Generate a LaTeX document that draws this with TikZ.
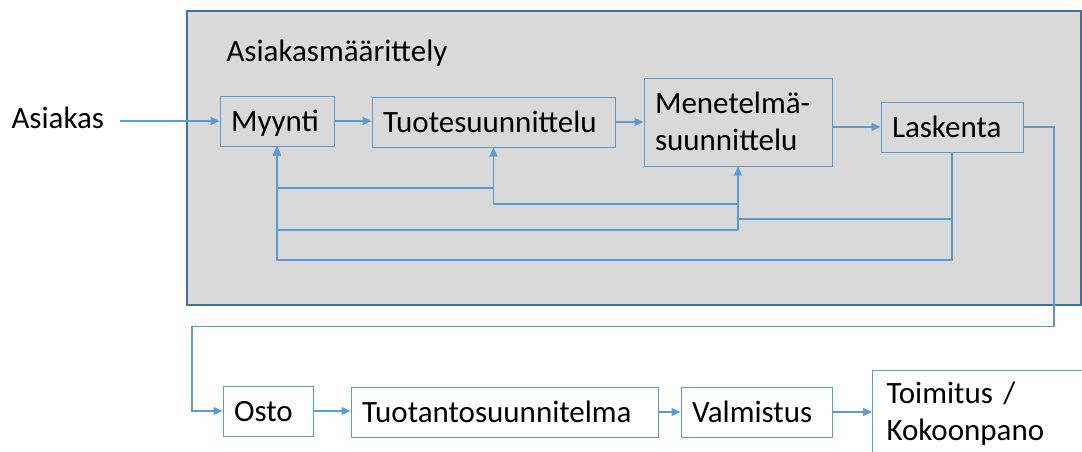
\documentclass[tikz,border=0pt]{standalone}
\usepackage{fontspec}
\setmainfont{Carlito}
\usetikzlibrary{arrows.meta}
\definecolor{boxblue}{HTML}{5B9BD5}
\definecolor{frameblue}{HTML}{41719C}
\definecolor{panelgray}{HTML}{D9D9D9}
\begin{document}
\begin{tikzpicture}[x=1pt,y=-1pt,
  every node/.style={font=\fontsize{31}{37}\selectfont, text=black},
  stepbox/.style={draw=boxblue, line width=1pt, rectangle, inner xsep=11pt,
    inner ysep=0pt, align=left, text height=20pt, text depth=0pt},
  twoline/.style={text height=20pt, text depth=37pt},
  conn/.style={draw=boxblue, line width=1.2pt},
  arr/.style={conn, -{Triangle[length=9pt,width=8pt]}},
]
\useasboundingbox (0,0) rectangle (1082,451);

% grey panel of the customer-specification phase
\draw[frameblue, fill=panelgray, line width=2pt] (187,11) rectangle (1081,305);
\node[anchor=base west] (title) at (223,61.5) {Asiakasmäärittely};

% upper row
\node[anchor=base west] (asiakas) at (8,128.3) {Asiakas};
\node[stepbox, text width=92pt, minimum height=50pt] (myynti) at (277,121) {Myynti};
\node[stepbox, text width=221pt, minimum height=50pt] (tuote) at (493.5,122) {Tuotesuunnittelu};
\node[stepbox, twoline, text width=166pt, minimum height=88pt] (menetelma) at (738,122) {Menetelmä-\\suunnittelu};
\node[stepbox, text width=120pt, minimum height=50pt] (laskenta) at (952,127) {Laskenta};

% lower row
\node[stepbox, text width=68pt, minimum height=50pt] (osto) at (268,411) {Osto};
\node[stepbox, text width=285pt, minimum height=50pt] (tuotanto) at (504.5,412) {Tuotantosuunnitelma};
\node[stepbox, text width=129pt, minimum height=50pt] (valmistus) at (756.5,412) {Valmistus};
\node[stepbox, twoline, anchor=north west, inner xsep=14pt, inner ysep=13pt,
  text width=240pt] (toimitus) at (872,370) {Toimitus /\\Kokoonpano};

% main flow
\coordinate (asiakasout) at (120,121);
\draw[arr] (asiakasout) -- (myynti.west);
\draw[arr] (myynti.east) -- (myynti.east -| tuote.west);
\draw[arr] (tuote.east) -- (menetelma.west);
\draw[arr] (menetelma.east |- laskenta.west) -- (laskenta.west);
\coordinate (turnA) at (1054,127);
\coordinate (turnB) at (1054,326.5);
\coordinate (turnC) at (192,326.5);
\draw[arr] (laskenta.east) -- (turnA) -- (turnB) -- (turnC) |- (osto.west);
\draw[arr] (osto.east) -- (osto.east -| tuotanto.west);
\draw[arr] (tuotanto.east) -- (tuotanto.east -| valmistus.west);
\draw[arr] (valmistus.east) -- (valmistus.east -| toimitus.west);

% feedback loops
\coordinate (fbLow) at (952,260);
\coordinate (fbLask) at (952,219);
\coordinate (fbMen1) at (738,230);
\coordinate (fbMen2) at (738,204);
\coordinate (fbTuo) at (493.5,188);
\draw[arr] (laskenta.south) -- (fbLow) -| (myynti.south);
\draw[arr] (fbLask) -| (menetelma.south);
\draw[conn] (fbMen1) -- (fbMen1 |- fbLask);
\draw[arr] (fbMen1) -| (myynti.south);
\draw[arr] (fbMen2) -| (tuote.south);
\draw[arr] (fbTuo) -| (myynti.south);
\end{tikzpicture}
\end{document}
